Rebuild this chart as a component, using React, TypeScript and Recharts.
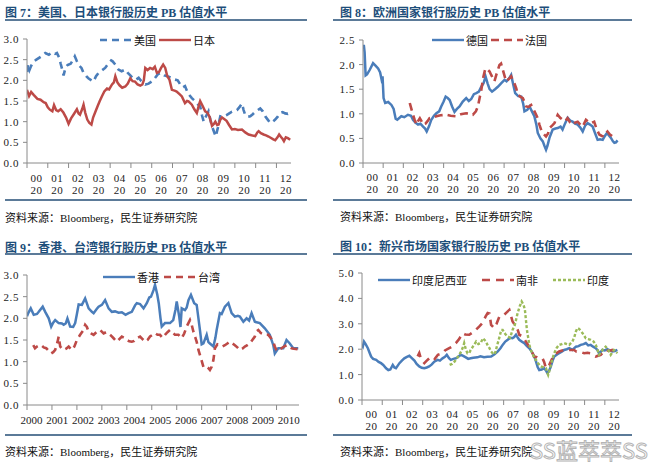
import React from "react";
import { LineChart, Line, XAxis, YAxis, Legend } from "recharts";

const SERIF = '"Liberation Serif", "Noto Sans CJK SC", serif';
const CJK = '"Noto Sans CJK SC", "Liberation Sans", sans-serif';
const BLUE = "#4a7dba";
const RED = "#bd4a47";
const GREEN = "#9bbb59";
const TITLE = "#1d4e7a";
const RULE = "#5b7a98";
const AXIS = "#8a8a8a";

// axis ticks
const yearTicks = [2000, 2001, 2002, 2003, 2004, 2005, 2006, 2007, 2008, 2009, 2010, 2011, 2012];
const hkYearTicks = [2000, 2001, 2002, 2003, 2004, 2005, 2006, 2007, 2008, 2009, 2010];
const pb3Ticks = [0, 0.5, 1, 1.5, 2, 2.5, 3];
const pb25Ticks = [0, 0.5, 1, 1.5, 2, 2.5];
const pb5Ticks = [0, 1, 2, 3, 4, 5];

// [year, PB]
const usPB = [
  [2000.0, 2.2], [2000.05, 2.38], [2000.12, 2.25], [2000.2, 2.35], [2000.3, 2.45], [2000.45, 2.5], [2000.6, 2.55], [2000.75, 2.6], [2000.88, 2.66],
  [2001.05, 2.62], [2001.2, 2.68], [2001.35, 2.64], [2001.44, 2.66], [2001.55, 2.55], [2001.62, 2.4], [2001.7, 2.25], [2001.76, 2.12], [2001.85, 2.3], [2001.95, 2.37],
  [2002.1, 2.4], [2002.22, 2.5], [2002.3, 2.58], [2002.4, 2.46], [2002.5, 2.36], [2002.62, 2.3], [2002.72, 2.18], [2002.85, 2.1], [2002.95, 2.05],
  [2003.1, 2.0], [2003.2, 1.97], [2003.32, 2.1], [2003.44, 2.18], [2003.6, 2.24], [2003.76, 2.3], [2003.9, 2.4],
  [2004.05, 2.48], [2004.12, 2.46], [2004.25, 2.38], [2004.4, 2.26], [2004.55, 2.22], [2004.73, 2.26], [2004.85, 2.18], [2004.97, 2.12],
  [2005.1, 2.05], [2005.25, 2.02], [2005.37, 2.06], [2005.5, 1.98], [2005.69, 1.9], [2005.85, 1.92],
  [2006.0, 1.97], [2006.15, 2.05], [2006.3, 2.15], [2006.45, 2.18], [2006.6, 2.12], [2006.75, 2.1], [2006.97, 2.06],
  [2007.1, 2.02], [2007.25, 2.0], [2007.37, 1.9], [2007.48, 1.83], [2007.6, 1.86], [2007.75, 1.68], [2007.93, 1.57],
  [2008.1, 1.49], [2008.22, 1.42], [2008.33, 1.37], [2008.42, 1.15], [2008.5, 1.0], [2008.6, 1.12], [2008.73, 1.25], [2008.82, 1.05], [2008.9, 0.89],
  [2009.0, 0.75], [2009.08, 0.64], [2009.18, 0.85], [2009.3, 1.13], [2009.45, 1.12], [2009.6, 1.16], [2009.73, 1.2], [2009.86, 1.24],
  [2010.0, 1.26], [2010.1, 1.28], [2010.22, 1.35], [2010.34, 1.44], [2010.42, 1.28], [2010.5, 1.16], [2010.62, 1.12], [2010.74, 1.13], [2010.86, 1.18], [2010.98, 1.24],
  [2011.1, 1.28], [2011.22, 1.32], [2011.34, 1.25], [2011.46, 1.13], [2011.58, 1.05], [2011.7, 0.97], [2011.82, 1.0], [2011.94, 1.05],
  [2012.06, 1.12], [2012.18, 1.21], [2012.3, 1.23], [2012.42, 1.2], [2012.55, 1.19], [2012.66, 1.22],
];

const japanPB = [
  [2000.0, 1.77], [2000.1, 1.62], [2000.2, 1.72], [2000.32, 1.65], [2000.5, 1.55], [2000.65, 1.53], [2000.8, 1.47], [2000.9, 1.45],
  [2001.0, 1.35], [2001.1, 1.29], [2001.22, 1.25], [2001.3, 1.4], [2001.4, 1.28], [2001.5, 1.25], [2001.62, 1.3], [2001.75, 1.22], [2001.88, 1.1],
  [2002.0, 0.95], [2002.12, 1.08], [2002.25, 1.18], [2002.4, 1.3], [2002.48, 1.2], [2002.55, 1.17], [2002.65, 1.3], [2002.72, 1.41], [2002.8, 1.22], [2002.9, 1.05],
  [2003.0, 0.97], [2003.1, 0.93], [2003.18, 1.1], [2003.3, 1.25], [2003.4, 1.38], [2003.5, 1.5], [2003.6, 1.61], [2003.72, 1.73], [2003.85, 1.8], [2003.95, 1.78],
  [2004.09, 1.9], [2004.18, 1.95], [2004.25, 2.1], [2004.35, 1.95], [2004.45, 1.88], [2004.58, 1.82], [2004.73, 1.85], [2004.85, 1.92], [2004.97, 2.05],
  [2005.08, 1.98], [2005.2, 1.97], [2005.32, 1.9], [2005.45, 1.87], [2005.55, 1.9], [2005.62, 2.0], [2005.69, 2.3], [2005.8, 2.25], [2005.92, 2.3],
  [2006.05, 2.27], [2006.15, 2.33], [2006.25, 2.18], [2006.35, 2.2], [2006.45, 2.3], [2006.55, 2.38], [2006.65, 2.3], [2006.75, 2.1], [2006.85, 2.02], [2006.97, 1.77],
  [2007.1, 1.75], [2007.2, 1.73], [2007.35, 1.66], [2007.45, 1.61], [2007.6, 1.45], [2007.7, 1.5], [2007.77, 1.49], [2007.93, 1.41],
  [2008.05, 1.3], [2008.17, 1.21], [2008.27, 1.4], [2008.33, 1.5], [2008.45, 1.38], [2008.57, 1.25], [2008.68, 1.22], [2008.78, 1.12], [2008.9, 0.9],
  [2009.0, 0.95], [2009.06, 1.0], [2009.15, 0.92], [2009.22, 0.93], [2009.3, 1.05], [2009.38, 1.1], [2009.5, 1.06], [2009.6, 1.02], [2009.72, 0.92], [2009.86, 0.81],
  [2010.0, 0.82], [2010.15, 0.8], [2010.34, 0.81], [2010.5, 0.74], [2010.66, 0.69], [2010.8, 0.67], [2010.98, 0.65],
  [2011.08, 0.74], [2011.14, 0.77], [2011.25, 0.72], [2011.38, 0.69], [2011.5, 0.67], [2011.62, 0.64], [2011.72, 0.61], [2011.85, 0.57], [2011.94, 0.55],
  [2012.05, 0.62], [2012.13, 0.69], [2012.22, 0.63], [2012.3, 0.58], [2012.36, 0.53], [2012.45, 0.62], [2012.55, 0.6], [2012.66, 0.56],
];

const germanyPB = [
  [2000.0, 2.3], [2000.04, 2.4], [2000.08, 2.25], [2000.13, 1.78], [2000.2, 1.8], [2000.33, 1.89], [2000.5, 2.03], [2000.62, 1.98], [2000.75, 1.92], [2000.85, 1.84], [2000.92, 1.7], [2000.97, 1.76],
  [2001.02, 1.32], [2001.1, 1.22], [2001.25, 1.24], [2001.41, 1.18], [2001.52, 1.1], [2001.62, 0.9], [2001.7, 0.88], [2001.9, 0.95],
  [2002.05, 0.93], [2002.23, 0.98], [2002.38, 0.96], [2002.48, 0.88], [2002.6, 0.82], [2002.73, 0.78], [2002.85, 0.8], [2002.98, 0.74],
  [2003.08, 0.7], [2003.16, 0.64], [2003.28, 0.75], [2003.39, 0.88], [2003.52, 0.96], [2003.64, 1.01], [2003.78, 1.05], [2003.88, 1.15],
  [2004.0, 1.25], [2004.1, 1.35], [2004.2, 1.32], [2004.3, 1.28], [2004.42, 1.15], [2004.54, 1.04], [2004.66, 1.1], [2004.79, 1.15], [2004.95, 1.25],
  [2005.12, 1.32], [2005.25, 1.26], [2005.37, 1.3], [2005.5, 1.4], [2005.62, 1.42], [2005.75, 1.45], [2005.87, 1.55], [2005.98, 1.62],
  [2006.08, 1.76], [2006.18, 1.62], [2006.28, 1.5], [2006.4, 1.45], [2006.55, 1.5], [2006.69, 1.55], [2006.85, 1.62],
  [2007.02, 1.69], [2007.12, 1.66], [2007.25, 1.72], [2007.35, 1.79], [2007.45, 1.6], [2007.55, 1.42], [2007.7, 1.36], [2007.85, 1.35], [2007.95, 1.2],
  [2008.01, 1.05], [2008.15, 1.08], [2008.26, 1.15], [2008.38, 1.05], [2008.5, 0.95], [2008.6, 0.78], [2008.67, 0.61], [2008.8, 0.5], [2008.92, 0.44],
  [2009.0, 0.35], [2009.08, 0.27], [2009.15, 0.35], [2009.25, 0.51], [2009.41, 0.68], [2009.55, 0.7], [2009.66, 0.71], [2009.8, 0.74], [2009.9, 0.68],
  [2010.02, 0.8], [2010.15, 0.92], [2010.28, 0.86], [2010.4, 0.84], [2010.52, 0.8], [2010.65, 0.78], [2010.78, 0.72], [2010.9, 0.64],
  [2011.02, 0.76], [2011.14, 0.81], [2011.26, 0.78], [2011.39, 0.74], [2011.5, 0.62], [2011.64, 0.47], [2011.76, 0.48], [2011.89, 0.47],
  [2012.0, 0.55], [2012.1, 0.61], [2012.2, 0.56], [2012.3, 0.51], [2012.4, 0.44], [2012.47, 0.41], [2012.55, 0.42], [2012.63, 0.46],
];

const francePB = [
  [2002.32, 1.22], [2002.4, 1.1], [2002.48, 0.98], [2002.56, 0.88], [2002.65, 0.78], [2002.73, 0.85], [2002.82, 0.91], [2002.9, 0.85], [2002.98, 0.78],
  [2003.1, 0.8], [2003.2, 0.85], [2003.3, 0.91], [2003.45, 0.92], [2003.64, 0.95], [2003.85, 0.97], [2004.13, 0.98], [2004.35, 0.96], [2004.63, 0.95], [2004.85, 0.99],
  [2005.12, 1.01], [2005.3, 1.0], [2005.45, 0.98], [2005.6, 1.05], [2005.7, 1.15], [2005.8, 1.35], [2005.87, 1.49], [2005.97, 1.75],
  [2006.07, 1.92], [2006.18, 1.9], [2006.28, 1.86], [2006.36, 1.79], [2006.52, 1.66], [2006.62, 1.8], [2006.77, 1.99], [2006.85, 2.02], [2006.94, 1.89],
  [2007.1, 1.66], [2007.22, 1.7], [2007.35, 1.76], [2007.51, 1.62], [2007.6, 1.52], [2007.68, 1.39], [2007.8, 1.35], [2007.93, 1.32],
  [2008.1, 1.15], [2008.22, 1.14], [2008.34, 1.18], [2008.45, 1.1], [2008.59, 0.98], [2008.68, 0.9], [2008.75, 0.78], [2008.85, 0.66], [2008.92, 0.61],
  [2009.08, 0.54], [2009.18, 0.6], [2009.25, 0.71], [2009.38, 0.76], [2009.5, 0.81], [2009.6, 0.92], [2009.66, 0.98], [2009.78, 0.92], [2009.9, 0.88],
  [2010.02, 0.85], [2010.15, 0.91], [2010.28, 0.82], [2010.4, 0.78], [2010.52, 0.82], [2010.65, 0.84], [2010.78, 0.78], [2010.9, 0.74],
  [2011.06, 0.88], [2011.18, 0.84], [2011.31, 0.81], [2011.47, 0.84], [2011.58, 0.7], [2011.72, 0.58], [2011.85, 0.55], [2011.97, 0.54],
  [2012.05, 0.6], [2012.13, 0.64], [2012.25, 0.58], [2012.38, 0.54], [2012.47, 0.5],
];

const hongKongPB = [
  [2000.0, 2.05], [2000.05, 2.12], [2000.15, 2.23], [2000.27, 2.08], [2000.4, 2.1], [2000.47, 2.15], [2000.63, 2.27], [2000.73, 2.15], [2000.87, 2.0], [2000.97, 1.81],
  [2001.05, 1.9], [2001.13, 1.96], [2001.27, 1.89], [2001.4, 1.88], [2001.47, 1.85], [2001.55, 1.88], [2001.62, 2.0], [2001.73, 1.81], [2001.85, 1.8], [2001.93, 1.89],
  [2002.0, 2.1], [2002.07, 2.32], [2002.2, 2.31], [2002.33, 2.46], [2002.47, 2.23], [2002.6, 2.15], [2002.67, 2.12], [2002.8, 2.22], [2002.87, 2.27],
  [2003.0, 2.31], [2003.13, 2.42], [2003.27, 2.23], [2003.4, 2.15], [2003.53, 2.16], [2003.67, 2.13], [2003.8, 2.14], [2003.95, 2.08],
  [2004.07, 2.12], [2004.2, 2.15], [2004.33, 2.3], [2004.4, 2.35], [2004.53, 2.33], [2004.67, 2.23], [2004.8, 2.35], [2004.9, 2.48], [2004.97, 2.5],
  [2005.07, 2.65], [2005.13, 2.77], [2005.22, 2.55], [2005.28, 2.35], [2005.35, 2.0], [2005.4, 1.81], [2005.53, 1.89], [2005.73, 1.89], [2005.86, 1.96], [2005.95, 2.2],
  [2006.0, 2.39], [2006.1, 2.04], [2006.15, 1.8], [2006.2, 2.23], [2006.33, 2.19], [2006.4, 2.25], [2006.47, 2.42], [2006.57, 2.54], [2006.7, 2.35], [2006.8, 2.31], [2006.87, 2.0], [2006.93, 1.73],
  [2007.0, 1.4], [2007.07, 1.42], [2007.2, 1.62], [2007.27, 1.45], [2007.33, 1.42], [2007.47, 1.35], [2007.55, 1.55], [2007.6, 1.73], [2007.73, 2.12], [2007.8, 2.1], [2007.93, 2.27],
  [2008.07, 2.35], [2008.2, 2.12], [2008.33, 2.04], [2008.45, 2.06], [2008.53, 2.04], [2008.67, 1.92], [2008.8, 2.0], [2008.9, 1.95],
  [2009.0, 2.12], [2009.13, 1.92], [2009.33, 1.89], [2009.53, 1.77], [2009.73, 1.62], [2009.87, 1.38], [2009.93, 1.19],
  [2010.07, 1.31], [2010.27, 1.31], [2010.4, 1.5], [2010.53, 1.42], [2010.67, 1.31], [2010.87, 1.31],
];

const taiwanPB = [
  [2000.25, 1.38], [2000.32, 1.31], [2000.4, 1.35], [2000.5, 1.38], [2000.57, 1.38], [2000.67, 1.33], [2000.77, 1.31], [2000.87, 1.25], [2000.97, 1.19],
  [2001.05, 1.22], [2001.13, 1.27], [2001.22, 1.45], [2001.27, 1.58], [2001.33, 1.35], [2001.4, 1.3], [2001.47, 1.27], [2001.57, 1.3], [2001.67, 1.35], [2001.75, 1.3], [2001.8, 1.27], [2001.9, 1.35],
  [2002.0, 1.5], [2002.13, 1.62], [2002.25, 1.72], [2002.33, 1.85], [2002.4, 1.8], [2002.47, 1.69], [2002.57, 1.65], [2002.67, 1.62], [2002.8, 1.69], [2002.93, 1.73],
  [2003.07, 1.65], [2003.17, 1.68], [2003.27, 1.65], [2003.37, 1.6], [2003.47, 1.54], [2003.6, 1.46], [2003.7, 1.52], [2003.8, 1.58], [2003.9, 1.55],
  [2004.0, 1.5], [2004.1, 1.47], [2004.2, 1.46], [2004.3, 1.48], [2004.4, 1.54], [2004.53, 1.58], [2004.63, 1.52], [2004.73, 1.46], [2004.83, 1.5], [2004.93, 1.58],
  [2005.03, 1.62], [2005.13, 1.66], [2005.23, 1.62], [2005.33, 1.62], [2005.43, 1.55], [2005.53, 1.62], [2005.63, 1.68], [2005.73, 1.73], [2005.83, 1.68], [2005.93, 1.62],
  [2006.07, 1.62], [2006.2, 1.54], [2006.3, 1.65], [2006.4, 1.81], [2006.53, 1.96], [2006.6, 1.85], [2006.67, 1.69], [2006.75, 1.55], [2006.8, 1.46], [2006.87, 1.27], [2006.97, 1.08],
  [2007.07, 0.88], [2007.13, 0.9], [2007.2, 0.88], [2007.27, 0.85], [2007.33, 0.81], [2007.4, 0.88], [2007.47, 1.04], [2007.53, 1.31], [2007.63, 1.4], [2007.73, 1.38], [2007.83, 1.35], [2007.93, 1.38],
  [2008.03, 1.42], [2008.13, 1.46], [2008.23, 1.42], [2008.33, 1.38], [2008.43, 1.33], [2008.53, 1.27], [2008.63, 1.3], [2008.73, 1.35], [2008.83, 1.38], [2008.93, 1.42],
  [2009.03, 1.5], [2009.13, 1.58], [2009.2, 1.7], [2009.27, 1.73], [2009.37, 1.66], [2009.47, 1.65], [2009.57, 1.62], [2009.67, 1.62], [2009.77, 1.55], [2009.87, 1.46], [2009.93, 1.35],
  [2010.0, 1.27], [2010.1, 1.25], [2010.2, 1.31], [2010.3, 1.35], [2010.4, 1.38], [2010.5, 1.35], [2010.6, 1.31], [2010.7, 1.3], [2010.84, 1.29],
];

const indonesiaPB = [
  [2000.0, 2.15], [2000.04, 2.1], [2000.1, 2.3], [2000.18, 2.2], [2000.29, 2.04], [2000.38, 1.85], [2000.45, 1.71], [2000.55, 1.62], [2000.7, 1.58], [2000.82, 1.5], [2000.94, 1.45],
  [2001.05, 1.38], [2001.19, 1.25], [2001.3, 1.18], [2001.4, 1.2], [2001.52, 1.38], [2001.6, 1.28], [2001.68, 1.25], [2001.85, 1.45], [2001.97, 1.55],
  [2002.09, 1.64], [2002.22, 1.7], [2002.34, 1.74], [2002.45, 1.66], [2002.59, 1.55], [2002.7, 1.42], [2002.83, 1.32], [2002.95, 1.27],
  [2003.08, 1.25], [2003.2, 1.28], [2003.32, 1.32], [2003.45, 1.4], [2003.57, 1.51], [2003.74, 1.58], [2003.85, 1.55], [2003.98, 1.64],
  [2004.1, 1.7], [2004.19, 1.78], [2004.3, 1.65], [2004.39, 1.58], [2004.52, 1.62], [2004.64, 1.64], [2004.76, 1.7], [2004.88, 1.78],
  [2005.0, 1.74], [2005.13, 1.68], [2005.25, 1.62], [2005.37, 1.64], [2005.5, 1.66], [2005.7, 1.68], [2005.85, 1.72],
  [2006.03, 1.68], [2006.2, 1.7], [2006.38, 1.71], [2006.55, 1.8], [2006.71, 1.91], [2006.85, 2.05], [2006.95, 2.17],
  [2007.08, 2.3], [2007.2, 2.37], [2007.32, 2.45], [2007.44, 2.43], [2007.52, 2.48], [2007.61, 2.57], [2007.7, 2.45], [2007.77, 2.37], [2007.9, 2.3],
  [2008.02, 2.24], [2008.15, 2.12], [2008.27, 2.04], [2008.35, 1.95], [2008.43, 1.84], [2008.52, 1.7], [2008.6, 1.51], [2008.68, 1.3], [2008.76, 1.18], [2008.88, 1.2],
  [2009.0, 1.25], [2009.1, 1.15], [2009.17, 1.05], [2009.25, 1.15], [2009.33, 1.32], [2009.42, 1.55], [2009.5, 1.71], [2009.62, 1.78], [2009.74, 1.84], [2009.87, 1.9], [2009.99, 1.97],
  [2010.12, 2.0], [2010.24, 2.04], [2010.4, 1.97], [2010.57, 2.1], [2010.7, 2.12], [2010.81, 2.17], [2010.95, 2.2],
  [2011.06, 2.24], [2011.18, 2.15], [2011.3, 2.17], [2011.42, 2.1], [2011.55, 2.04], [2011.65, 1.95], [2011.71, 1.84], [2011.8, 1.9], [2011.88, 1.97],
  [2012.0, 1.95], [2012.12, 2.0], [2012.25, 1.95], [2012.37, 1.91], [2012.5, 1.93], [2012.62, 1.97],
];

const southAfricaPB = [
  [2002.75, 1.72], [2002.83, 1.85], [2002.92, 1.6], [2003.08, 1.45], [2003.2, 1.55], [2003.32, 1.64], [2003.49, 1.71], [2003.6, 1.62], [2003.75, 1.78], [2003.98, 1.84],
  [2004.1, 1.95], [2004.31, 2.04], [2004.45, 2.1], [2004.64, 2.24], [2004.8, 2.4], [2004.97, 2.63],
  [2005.1, 2.58], [2005.3, 2.57], [2005.45, 2.65], [2005.62, 2.76], [2005.8, 2.9], [2005.95, 3.03],
  [2006.11, 3.29], [2006.21, 3.42], [2006.3, 3.4], [2006.38, 2.96], [2006.54, 2.83], [2006.65, 3.0], [2006.79, 3.29],
  [2007.03, 3.36], [2007.15, 3.45], [2007.28, 3.55], [2007.44, 3.09], [2007.61, 2.89], [2007.7, 2.75], [2007.77, 2.57], [2007.94, 2.5],
  [2008.1, 2.3], [2008.22, 2.15], [2008.35, 1.97], [2008.51, 1.71], [2008.65, 1.68], [2008.76, 1.64], [2008.92, 1.64],
  [2009.0, 1.5], [2009.09, 1.25], [2009.25, 1.38], [2009.38, 1.6], [2009.5, 1.78], [2009.74, 1.91], [2009.99, 1.97],
  [2010.24, 1.97], [2010.48, 1.97], [2010.6, 1.9], [2010.73, 1.91], [2010.98, 1.84],
  [2011.15, 1.86], [2011.3, 1.84], [2011.45, 1.75], [2011.55, 1.71], [2011.8, 1.78],
  [2012.04, 1.97], [2012.2, 1.93], [2012.37, 1.97], [2012.5, 1.92], [2012.62, 1.91],
];

const indiaPB = [
  [2004.33, 1.38], [2004.45, 1.42], [2004.57, 1.51], [2004.7, 1.65], [2004.82, 1.8], [2004.9, 1.91],
  [2005.0, 2.1], [2005.05, 2.24], [2005.13, 2.0], [2005.21, 1.84], [2005.3, 1.85], [2005.37, 1.97], [2005.48, 2.1], [2005.54, 2.17], [2005.64, 2.3], [2005.75, 2.2], [2005.87, 2.24], [2005.97, 2.43],
  [2006.05, 2.37], [2006.13, 2.3], [2006.2, 2.17], [2006.3, 2.04], [2006.38, 1.91], [2006.46, 1.84], [2006.56, 1.8], [2006.71, 2.24], [2006.8, 2.5], [2006.88, 2.76], [2006.95, 2.76],
  [2007.08, 2.6], [2007.2, 2.5], [2007.32, 2.45], [2007.44, 2.76], [2007.55, 2.95], [2007.69, 3.42], [2007.8, 3.7], [2007.89, 3.88], [2007.98, 3.75],
  [2008.05, 3.55], [2008.15, 2.76], [2008.27, 2.17], [2008.35, 1.95], [2008.43, 1.84], [2008.52, 1.62], [2008.6, 1.58], [2008.7, 1.45], [2008.84, 1.32],
  [2009.0, 1.28], [2009.09, 1.25], [2009.15, 1.1], [2009.2, 0.99], [2009.26, 1.15], [2009.33, 1.38], [2009.42, 1.65], [2009.5, 1.84], [2009.62, 2.05], [2009.74, 2.17], [2009.87, 2.2], [2009.99, 2.24],
  [2010.12, 2.2], [2010.24, 2.17], [2010.4, 2.3], [2010.5, 2.5], [2010.57, 2.7], [2010.65, 2.83], [2010.73, 2.8], [2010.9, 2.63],
  [2011.06, 2.43], [2011.18, 2.4], [2011.3, 2.37], [2011.45, 2.3], [2011.55, 2.17], [2011.63, 2.0], [2011.71, 1.78], [2011.8, 1.85], [2011.88, 1.97],
  [2012.04, 2.1], [2012.15, 2.0], [2012.29, 1.78], [2012.45, 1.97], [2012.55, 1.9], [2012.62, 1.84],
];

const toRows = (pts: number[][]) => pts.map(([t, v]) => ({ t, v }));

type Series = { name: string; color: string; dash?: string; width?: number; pts: number[][] };

// two-line year label ("00" over "20"), sitting between the year ticks
const splitYearTick = (shift: number, dy1: number) => (props: any) => {
  const { x, y, payload } = props;
  const s = String(payload.value);
  return (
    <text x={x + shift} y={y} textAnchor="middle" fontFamily={SERIF} fontSize={11} letterSpacing={0.5} fill="#222">
      <tspan x={x + shift} dy={dy1}>{s.slice(2)}</tspan>
      <tspan x={x + shift} dy={12}>{s.slice(0, 2)}</tspan>
    </text>
  );
};

// full year label for the Hong Kong / Taiwan chart
const fullYearTick = (props: any) => {
  const { x, y, payload } = props;
  const i = payload.value - 2000;
  return (
    <text x={x + 4.5 + i * 0.78} y={y} dy={12} textAnchor="middle" fontFamily={SERIF} fontSize={11} fill="#222">
      {payload.value}
    </text>
  );
};

const LegendRow = ({ series, gap }: { series: Series[]; gap: number }) => (
  <div style={{ display: "flex", alignItems: "center", fontFamily: CJK, fontSize: 11, color: "#111", whiteSpace: "nowrap", lineHeight: "16px" }}>
    {series.map((s, i) => (
      <span key={s.name} style={{ display: "flex", alignItems: "center", marginLeft: i ? gap : 0 }}>
        <svg width={32} height={6}>
          <line x1={0} y1={3} x2={32} y2={3} stroke={s.color} strokeWidth={2.4} strokeDasharray={s.dash} />
        </svg>
        <span style={{ marginLeft: 2 }}>{s.name}</span>
      </span>
    ))}
  </div>
);

type PanelProps = {
  box: number[]; // left, top, width, height
  plot: number[]; // left, top, right, bottom
  xDomain: number[];
  xTicks: number[];
  xAxisH: number;
  tick: (p: any) => React.ReactElement;
  yDomain: number[];
  yTicks: number[];
  series: Series[];
  legend: number[]; // x, y, gap
};

const Panel = ({ box, plot, xDomain, xTicks, xAxisH, tick, yDomain, yTicks, series, legend }: PanelProps) => {
  const [L, T, W, H] = box;
  const [pl, pt, pr, pb] = plot;
  return (
    <div style={{ position: "absolute", left: L, top: T }}>
      <LineChart width={W} height={H} margin={{ top: pt - T, left: 0, right: L + W - pr, bottom: T + H - pb - xAxisH }}>
        <XAxis
          type="number"
          dataKey="t"
          domain={xDomain}
          ticks={xTicks}
          interval={0}
          height={xAxisH}
          tick={tick}
          tickSize={5}
          tickMargin={2}
          stroke={AXIS}
          allowDataOverflow
        />
        <YAxis
          type="number"
          domain={yDomain}
          ticks={yTicks}
          interval={0}
          width={pl - L}
          tickSize={4}
          tickMargin={4}
          stroke={AXIS}
          tick={{ fontFamily: SERIF, fontSize: 11, fill: "#222", letterSpacing: 0.6 }}
          tickFormatter={(v: number) => Number(v).toFixed(1)}
        />
        {series.map((s) => (
          <Line
            key={s.name}
            name={s.name}
            data={toRows(s.pts)}
            dataKey="v"
            type="linear"
            stroke={s.color}
            strokeWidth={s.width ?? 2.5}
            strokeDasharray={s.dash}
            dot={false}
            activeDot={false}
            isAnimationActive={false}
          />
        ))}
        <Legend
          layout="horizontal"
          verticalAlign="middle"
          align="center"
          wrapperStyle={{ left: legend[0] - L, top: legend[1] - T - 8, width: "auto" }}
          content={() => <LegendRow series={series} gap={legend[2]} />}
        />
      </LineChart>
    </div>
  );
};

const Title = ({ x, y, text }: { x: number; y: number; text: string }) => (
  <div style={{ position: "absolute", left: x, top: y - 8, fontFamily: SERIF, fontWeight: 700, fontSize: 12, lineHeight: "16px", color: TITLE, whiteSpace: "nowrap" }}>
    {text}
  </div>
);

const Rule = ({ x, y, w }: { x: number; y: number; w: number }) => (
  <div style={{ position: "absolute", left: x, top: y - 1, width: w, height: 2, background: RULE }} />
);

const Source = ({ x, y }: { x: number; y: number }) => (
  <div style={{ position: "absolute", left: x, top: y - 8, fontFamily: SERIF, fontSize: 11, lineHeight: "16px", color: "#111", whiteSpace: "nowrap" }}>
    资料来源：Bloomberg，民生证券研究院
  </div>
);

export default function App() {
  return (
    <div style={{ position: "absolute", left: 0, top: 0, width: 660, height: 465, background: "#fff", overflow: "hidden" }}>
      <Title x={5} y={13} text="图 7：美国、日本银行股历史 PB 估值水平" />
      <Rule x={5} y={20} w={302} />
      <Panel
        box={[0, 30, 310, 180]}
        plot={[27, 39, 291, 163]}
        xDomain={[2000, 2012.7]}
        xTicks={yearTicks}
        xAxisH={30}
        tick={splitYearTick(9.5, 12)}
        yDomain={[0, 3]}
        yTicks={pb3Ticks}
        series={[
          { name: "美国", color: BLUE, dash: "7 5", width: 2.6, pts: usPB },
          { name: "日本", color: RED, pts: japanPB },
        ]}
        legend={[100, 40, 3]}
      />
      <Rule x={5} y={200} w={302} />
      <Source x={5} y={218} />

      <Title x={340} y={13} text="图 8：欧洲国家银行股历史 PB 估值水平" />
      <Rule x={333} y={20} w={299} />
      <Panel
        box={[333, 30, 300, 180]}
        plot={[363, 40, 619, 163]}
        xDomain={[2000, 2012.7]}
        xTicks={yearTicks}
        xAxisH={30}
        tick={splitYearTick(9.5, 10.5)}
        yDomain={[0, 2.5]}
        yTicks={pb25Ticks}
        series={[
          { name: "德国", color: BLUE, pts: germanyPB },
          { name: "法国", color: RED, dash: "8 5", width: 2.6, pts: francePB },
        ]}
        legend={[432, 40, 3]}
      />
      <Rule x={333} y={200} w={299} />
      <Source x={340} y={217} />

      <Title x={5} y={248} text="图 9：香港、台湾银行股历史 PB 估值水平" />
      <Rule x={5} y={254} w={302} />
      <Panel
        box={[0, 265, 310, 170]}
        plot={[27, 275, 299, 405]}
        xDomain={[2000, 2010.9]}
        xTicks={hkYearTicks}
        xAxisH={25}
        tick={fullYearTick}
        yDomain={[0, 3]}
        yTicks={pb3Ticks}
        series={[
          { name: "香港", color: BLUE, pts: hongKongPB },
          { name: "台湾", color: RED, dash: "7 5", width: 2.6, pts: taiwanPB },
        ]}
        legend={[103, 277, 5]}
      />
      <Rule x={5} y={435} w={302} />
      <Source x={5} y={452} />

      <Title x={340} y={247} text="图 10：新兴市场国家银行股历史 PB 估值水平" />
      <Rule x={333} y={254} w={299} />
      <Panel
        box={[333, 265, 300, 170]}
        plot={[362, 273, 619, 400]}
        xDomain={[2000, 2012.7]}
        xTicks={yearTicks}
        xAxisH={30}
        tick={splitYearTick(9.5, 11)}
        yDomain={[0, 5]}
        yTicks={pb5Ticks}
        series={[
          { name: "印度尼西亚", color: BLUE, pts: indonesiaPB },
          { name: "南非", color: RED, dash: "8 6", width: 2.6, pts: southAfricaPB },
          { name: "印度", color: GREEN, dash: "3 2", width: 2.4, pts: indiaPB },
        ]}
        legend={[378, 280, 15]}
      />
      <Rule x={333} y={435} w={299} />
      <Source x={340} y={452} />

      <div
        style={{
          position: "absolute",
          left: 530,
          top: 436,
          fontFamily: CJK,
          fontSize: 22,
          lineHeight: "26px",
          color: "rgba(255,255,255,0.6)",
          WebkitTextStroke: "1px #b5b5b5",
          whiteSpace: "nowrap",
        }}
      >
        SS蓝萃萃SS
      </div>
    </div>
  );
}
